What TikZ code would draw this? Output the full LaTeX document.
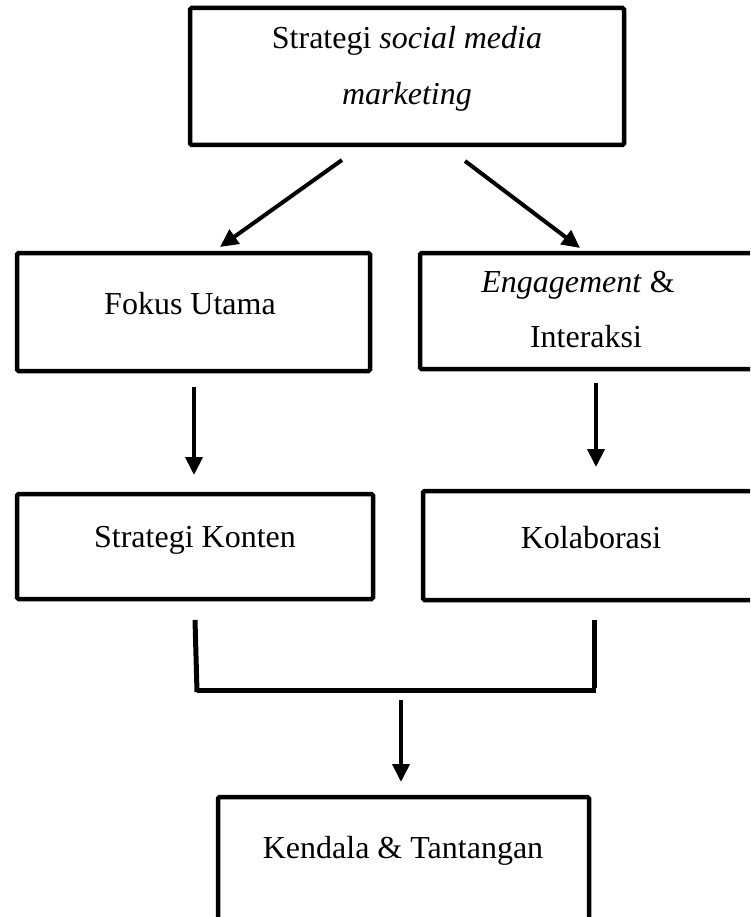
\documentclass[tikz,border=0pt]{standalone}
\usepackage{fontspec}
\setmainfont{Liberation Serif}
\usetikzlibrary{arrows.meta}
\tikzset{
  box/.style={draw=black, line width=4.5pt, rectangle, inner sep=0pt, rounded corners=1.5pt},
  txt/.style={anchor=base, inner sep=0pt, font=\fontsize{32}{38}\selectfont},
  arr/.style={line width=4pt, -{Triangle[length=18pt,width=17pt]}},
  brk/.style={line width=5pt}
}
\begin{document}
\begin{tikzpicture}[x=1pt,y=-1pt]
\useasboundingbox (0,0) rectangle (750,917);
\fill[white] (0,0) rectangle (750,917);
\clip (0,0) rectangle (750,917);

% boxes
\node[box, minimum width=434pt, minimum height=137pt] (top) at (407,76.5) {};
\node[txt] (toptA) at (407,49) {Strategi \textit{social media}};
\node[txt] (toptB) at (407,105) {\textit{marketing}};

\node[box, minimum width=353pt, minimum height=118pt] (fokus) at (193.5,312) {};
\node[txt] (fokust) at (190,314) {Fokus Utama};

\node[box, minimum width=337pt, minimum height=116pt] (eng) at (588.5,311) {};
\node[txt] (engtA) at (578,292) {\textit{Engagement} \&};
\node[txt] (engtB) at (586,347) {Interaksi};

\node[box, minimum width=356pt, minimum height=105pt] (konten) at (195,546.5) {};
\node[txt] (kontent) at (195,547) {Strategi Konten};

\node[box, minimum width=334pt, minimum height=109pt] (kolab) at (590,545.5) {};
\node[txt] (kolabt) at (591,548) {Kolaborasi};

\node[box, minimum width=371pt, minimum height=128pt] (kendala) at (403.5,861) {};
\node[txt] (kendalat) at (403,858) {Kendala \& Tantangan};

% arrow end points
\coordinate (a1s) at (342,160);
\coordinate (a1e) at (220,247);
\coordinate (a2s) at (465,161);
\coordinate (a2e) at (580,248);
\coordinate (a3s) at (194,387);
\coordinate (a3e) at (194,475);
\coordinate (a4s) at (596,383);
\coordinate (a4e) at (596,467);
\coordinate (a5s) at (401,700);
\coordinate (a5e) at (401,782);

\draw[arr] (a1s) -- (a1e);
\draw[arr] (a2s) -- (a2e);
\draw[arr] (a3s) -- (a3e);
\draw[arr] (a4s) -- (a4e);
\draw[arr] (a5s) -- (a5e);

% bracket
\coordinate (bl1) at (195,620);
\coordinate (bl2) at (197,692);
\coordinate (bh1) at (197,690);
\coordinate (bh2) at (596,690);
\coordinate (br1) at (594,620);
\coordinate (br2) at (594,688);
\draw[brk] (bl1) -- (bl2);
\draw[brk] (bh1) -- (bh2);
\draw[brk] (br1) -- (br2);
\end{tikzpicture}
\end{document}
